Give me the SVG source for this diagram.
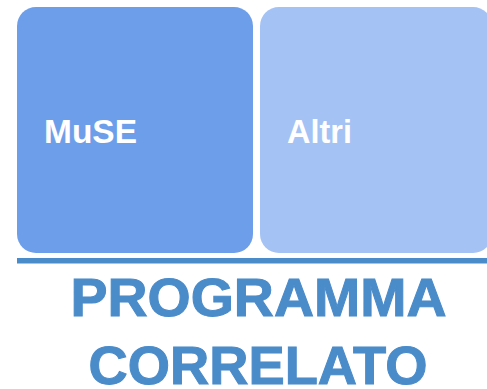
<svg xmlns="http://www.w3.org/2000/svg" width="487" height="389" viewBox="0 0 487 389">
<style>
.lbl{font-family:"Liberation Sans",Arial,sans-serif;font-weight:bold;font-size:33px;fill:#ffffff}
.title{font-family:"Liberation Sans",Arial,sans-serif;font-weight:bold;font-size:54px;fill:#4a8bc9;stroke:#4a8bc9;stroke-width:1}
</style>
<rect width="487" height="389" fill="#ffffff"/>
<g id="node-muse">
<rect x="17" y="7" width="236" height="246" rx="19" ry="19" fill="#6d9eea"/>
<text class="lbl" x="44" y="143" textLength="93" lengthAdjust="spacingAndGlyphs">MuSE</text>
</g>
<g id="node-altri">
<rect x="260" y="7" width="232" height="246" rx="19" ry="19" fill="#a4c2f4"/>
<text class="lbl" x="287" y="143" textLength="65" lengthAdjust="spacingAndGlyphs">Altri</text>
</g>
<g id="connectors">
<rect x="17" y="258" width="470" height="5.5" fill="#4a8bc9"/>
</g>
<g id="title">
<text class="title" x="258.5" y="316" text-anchor="middle" textLength="376" lengthAdjust="spacingAndGlyphs">PROGRAMMA</text>
<text class="title" x="258" y="384" text-anchor="middle" textLength="339" lengthAdjust="spacingAndGlyphs">CORRELATO</text>
</g>
</svg>
